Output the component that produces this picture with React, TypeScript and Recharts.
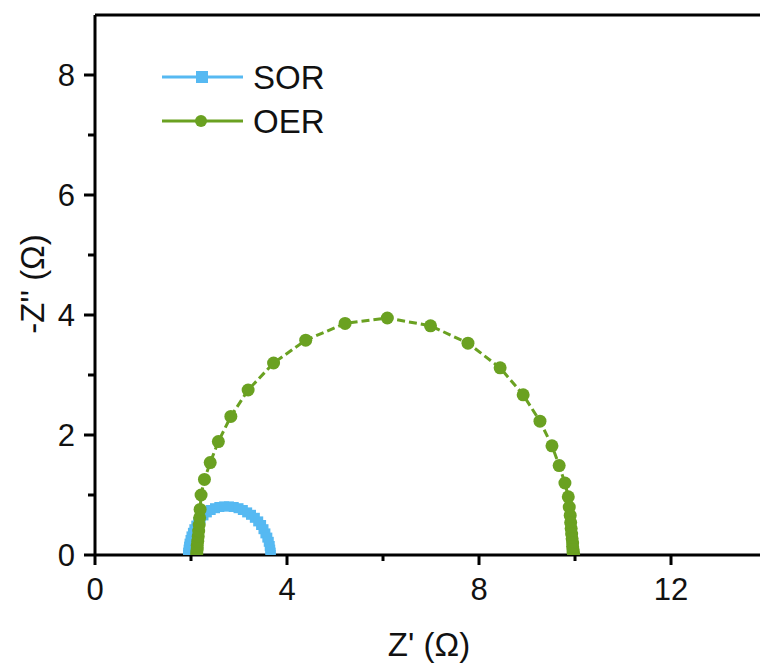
import { LineChart, Line, XAxis, YAxis, ReferenceLine, Legend } from 'recharts';

// SOR impedance points (Z', -Z'')
const sorRe = [1.94, 1.94, 1.95, 1.96, 1.97, 1.99, 2.01, 2.04, 2.07, 2.11, 2.15, 2.2, 2.26, 2.33, 2.41, 2.5, 2.59, 2.69, 2.79, 2.89, 2.99, 3.08, 3.17, 3.25, 3.33, 3.4, 3.46, 3.51, 3.55, 3.59, 3.62, 3.64, 3.65, 3.66, 3.66];
const sorIm = [0.0, 0.04, 0.09, 0.14, 0.19, 0.25, 0.31, 0.37, 0.43, 0.49, 0.55, 0.61, 0.66, 0.71, 0.75, 0.78, 0.8, 0.81, 0.81, 0.8, 0.78, 0.75, 0.71, 0.67, 0.62, 0.56, 0.5, 0.43, 0.36, 0.29, 0.22, 0.15, 0.09, 0.04, 0.0];

// OER impedance points
const oerRe = [2.12, 2.12, 2.13, 2.13, 2.14, 2.15, 2.16, 2.17, 2.18, 2.19, 2.21, 2.28, 2.4, 2.57, 2.83, 3.19, 3.72, 4.39, 5.21, 6.09, 6.99, 7.77, 8.44, 8.92, 9.27, 9.52, 9.67, 9.79, 9.86, 9.88, 9.9, 9.91, 9.92, 9.93, 9.94, 9.95, 9.95, 9.96, 9.96, 9.97, 9.97];
const oerIm = [0.0, 0.05, 0.1, 0.16, 0.23, 0.31, 0.4, 0.5, 0.62, 0.76, 1.0, 1.26, 1.54, 1.89, 2.31, 2.75, 3.2, 3.58, 3.86, 3.95, 3.82, 3.53, 3.12, 2.67, 2.23, 1.82, 1.49, 1.2, 0.97, 0.8, 0.66, 0.54, 0.44, 0.35, 0.27, 0.2, 0.14, 0.09, 0.05, 0.02, 0.0];

const xTicks = [0, 2, 4, 6, 8, 10, 12];
const yTicks = [0, 1, 2, 3, 4, 5, 6, 7, 8];
const seriesNames = ['SOR', 'OER'];

const SOR_COLOR = '#56b9f2';
const OER_COLOR = '#6aa121';
const FONT = "Arial, 'Liberation Sans', sans-serif";

const sorData = sorRe.map((x, i) => ({ x, y: sorIm[i] }));
const oerData = oerRe.map((x, i) => ({ x, y: oerIm[i] }));

function XTick({ x, y, payload }: any) {
  const major = payload.value % 4 === 0;
  return (
    <g>
      <line x1={x} x2={x} y1={y} y2={y + (major ? 10 : 6)} stroke="#000" strokeWidth={3} />
      {major && (
        <text x={x} y={y + 45} textAnchor="middle" fontSize={31} fontFamily={FONT} fill="#111">
          {payload.value}
        </text>
      )}
    </g>
  );
}

function YTick({ x, y, payload }: any) {
  const major = payload.value % 2 === 0;
  return (
    <g>
      <line x1={x - (major ? 11 : 7)} x2={x} y1={y} y2={y} stroke="#000" strokeWidth={3} />
      {major && (
        <text x={x - 20} y={y + 11} textAnchor="end" fontSize={31} fontFamily={FONT} fill="#111">
          {payload.value}
        </text>
      )}
    </g>
  );
}

function SquareDot({ cx, cy }: any) {
  if (cx == null || cy == null) return null;
  return <rect x={cx - 5} y={cy - 5} width={10} height={10} fill={SOR_COLOR} />;
}

function LegendBox({ payload }: any) {
  // keep the series order of seriesNames, whatever order recharts hands over
  const items = [...(payload || [])].sort(
    (a: any, b: any) => seriesNames.indexOf(a.value) - seriesNames.indexOf(b.value)
  );
  return (
    <svg width={200} height={100}>
      {items.map((p: any, i: number) => {
        const cy = 27 + i * 44;
        return (
          <g key={p.value}>
            <line x1={12} x2={93} y1={cy} y2={cy} stroke={p.color} strokeWidth={3} />
            {p.value === 'SOR' ? (
              <rect x={46} y={cy - 6} width={12} height={12} fill={p.color} />
            ) : (
              <circle cx={51} cy={cy} r={6} fill={p.color} />
            )}
            <text x={103} y={cy + 12} fontSize={33} fontFamily={FONT} fill="#111">
              {p.value}
            </text>
          </g>
        );
      })}
    </svg>
  );
}

export default function App() {
  return (
    <div style={{ position: 'absolute', left: 0, top: 0, width: 760, height: 666, background: '#fff' }}>
      <LineChart width={760} height={666} margin={{ top: 15, right: 0, left: 0, bottom: 0 }}>
        <XAxis
          type="number"
          dataKey="x"
          domain={[0, 13.854]}
          ticks={xTicks}
          allowDataOverflow
          height={111}
          tickSize={0}
          tickMargin={0}
          tickLine={false}
          axisLine={{ stroke: '#000', strokeWidth: 3 }}
          tick={<XTick />}
          interval={0}
        />
        <YAxis
          type="number"
          dataKey="y"
          domain={[0, 9]}
          ticks={yTicks}
          allowDataOverflow
          width={95}
          tickSize={0}
          tickMargin={0}
          tickLine={false}
          axisLine={{ stroke: '#000', strokeWidth: 3 }}
          tick={<YTick />}
          interval={0}
        />
        <ReferenceLine y={9} stroke="#000" strokeWidth={3} />
        <Legend
          layout="vertical"
          align="center"
          verticalAlign="middle"
          wrapperStyle={{ left: 150, top: 50, width: 200 }}
          content={<LegendBox />}
        />
        <Line
          data={sorData}
          dataKey="y"
          name={seriesNames[0]}
          type="linear"
          stroke={SOR_COLOR}
          strokeWidth={3}
          dot={<SquareDot />}
          activeDot={false}
          isAnimationActive={false}
        />
        <Line
          data={oerData}
          dataKey="y"
          name={seriesNames[1]}
          type="linear"
          stroke={OER_COLOR}
          strokeWidth={3}
          strokeDasharray="8 4"
          dot={{ r: 6.5, fill: OER_COLOR, stroke: 'none' }}
          activeDot={false}
          isAnimationActive={false}
        />
      </LineChart>
      <div
        style={{
          position: 'absolute',
          left: 429,
          top: 628,
          transform: 'translateX(-50%)',
          fontSize: 33,
          fontFamily: FONT,
          color: '#111',
          whiteSpace: 'nowrap',
          lineHeight: 1,
        }}
      >
        Z' (Ω)
      </div>
      <div
        style={{
          position: 'absolute',
          left: 32,
          top: 284,
          transform: 'translate(-50%, -50%) rotate(-90deg)',
          fontSize: 33,
          fontFamily: FONT,
          color: '#111',
          whiteSpace: 'nowrap',
          lineHeight: 1,
        }}
      >
        -Z'' (Ω)
      </div>
    </div>
  );
}
